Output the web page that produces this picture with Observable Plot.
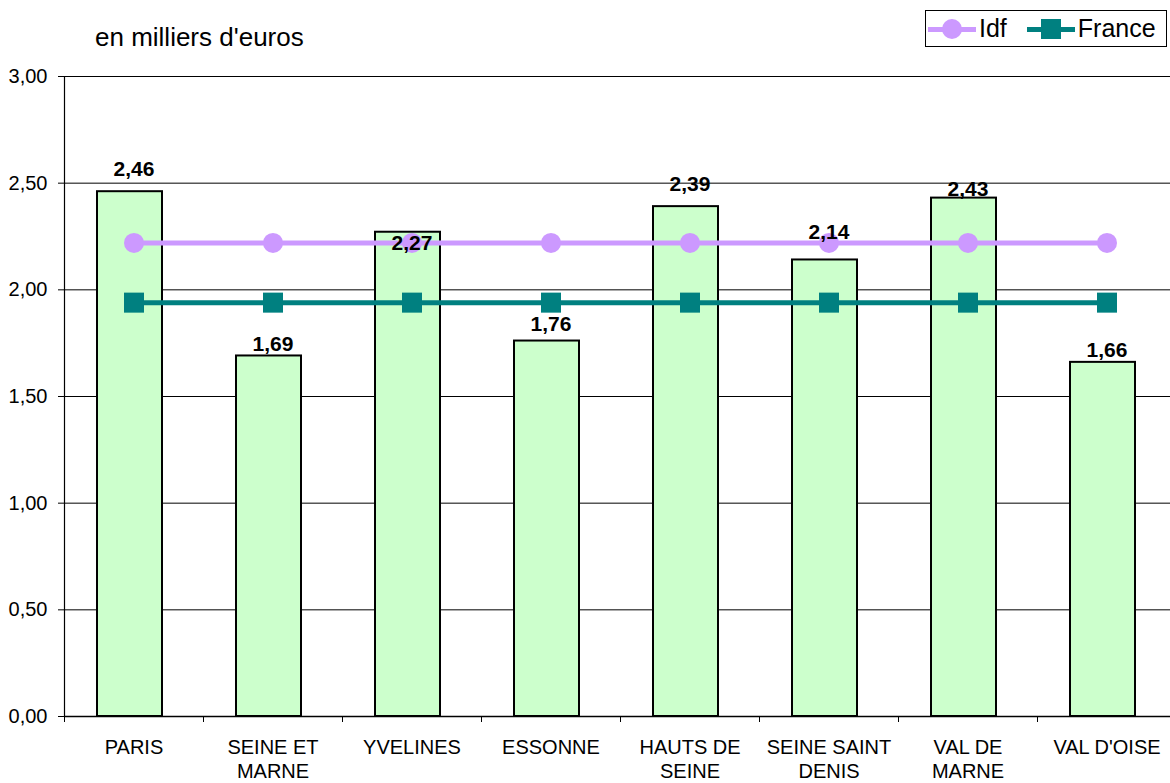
<!DOCTYPE html>
<html><head><meta charset="utf-8">
<script src="https://cdn.jsdelivr.net/npm/d3@7"></script>
<script src="https://cdn.jsdelivr.net/npm/@observablehq/plot@0.6"></script>
<style>
body{margin:0;background:#fff;font-family:"Liberation Sans",Arial,sans-serif;overflow:hidden}
#wrap{position:relative;width:1170px;height:783px}
#sub{position:absolute;left:95px;top:24px;font-size:26px;line-height:1;color:#000;z-index:2}
#legend{position:absolute;left:925px;top:10px;width:240px;height:35px;border:1px solid #000;background:#fff;font-size:25px;line-height:1;display:flex;align-items:center;z-index:2}
.item{display:flex;align-items:center;margin-left:2px}
.sw{position:relative;width:48px;height:22px;margin-right:3px}
.sw .ln{position:absolute;left:0;right:0;top:9px;height:5px}
.sw .mk{position:absolute;left:14px;top:1px;width:20px;height:20px}
</style></head>
<body><div id="wrap"><div id="sub">en milliers d'euros</div>
<div id="legend">
 <div class="item"><div class="sw"><div class="ln" style="background:#cc99ff"></div><div class="mk" style="background:#cc99ff;border-radius:50%"></div></div>Idf</div>
 <div class="item" style="margin-left:20px"><div class="sw"><div class="ln" style="background:#008080"></div><div class="mk" style="background:#008080"></div></div>France</div>
</div>
</div>
<script>
const categories = ["PARIS","SEINE ET\nMARNE","YVELINES","ESSONNE","HAUTS DE\nSEINE","SEINE SAINT\nDENIS","VAL DE\nMARNE","VAL D'OISE"];
const values = [2.46,1.69,2.27,1.76,2.39,2.14,2.43,1.66];
const idf = [2.22,2.22,2.22,2.22,2.22,2.22,2.22,2.22];
const france = [1.94,1.94,1.94,1.94,1.94,1.94,1.94,1.94];
const yTicks = [0,0.5,1,1.5,2,2.5,3];
// vertical offsets (px) of the value labels as placed in the original
const labelDy = [-22,-12,11,-17,-22,-28,-9,-12];

const rows = categories.map((c,i)=>({c, v: values[i], idf: idf[i], fr: france[i], dy: labelDy[i]}));
const fmt = d => d3.format(".2f")(d).replace(".", ",");
const W = 1170, H = 783, mL = 64, mR = -6;
const bw = (W - mL - mR) / categories.length;

const chart = Plot.plot({
  width: W, height: H,
  marginLeft: mL, marginRight: mR, marginTop: 76, marginBottom: 67,
  style: {fontFamily: '"Liberation Sans", Arial, sans-serif', fontSize: "20px", background: "transparent", color: "#000"},
  x: {type: "band", domain: categories, padding: 0, label: null},
  y: {domain: [0, 3], label: null},
  marks: [
    Plot.ruleY(yTicks.slice(1), {stroke: "#000", strokeWidth: 1}),
    Plot.barY(rows, {x: "c", y: "v", fill: "#ccffcc", stroke: "#000", strokeWidth: 2, insetLeft: 33, insetRight: 41}),
    Plot.ruleY([0], {stroke: "#000", strokeWidth: 1.5}),
    Plot.ruleX([categories[0]], {x: d => d, dx: -bw/2, stroke: "#000", strokeWidth: 1.2}),
    Plot.ruleX(categories, {x: d => d, y1: 0, y2: 0, insetBottom: -6, dx: -bw/2, stroke: "#000"}),
    Plot.axisY({ticks: yTicks, tickFormat: fmt, tickSize: 6, tickPadding: 11, fontSize: 20, stroke: "#000"}),
    Plot.axisX({tickSize: 0, tickPadding: 20, fontSize: 20, lineHeight: 1.2}),
    Plot.line(rows, {x: "c", y: "idf", stroke: "#cc99ff", strokeWidth: 5}),
    Plot.dot(rows, {x: "c", y: "idf", fill: "#cc99ff", r: 10, symbol: "circle"}),
    Plot.line(rows, {x: "c", y: "fr", stroke: "#008080", strokeWidth: 5}),
    Plot.dot(rows, {x: "c", y: "fr", fill: "#008080", r: 11.3, symbol: "square"}),
    ...rows.map(r => Plot.text([r], {x: "c", y: "v", text: d => fmt(d.v), dy: r.dy, fontWeight: "bold", fontSize: 21, fill: "#000"}))
  ]
});
document.getElementById("wrap").prepend(chart);
chart.style.position = "absolute"; chart.style.left = "0"; chart.style.top = "0";
</script></body></html>
